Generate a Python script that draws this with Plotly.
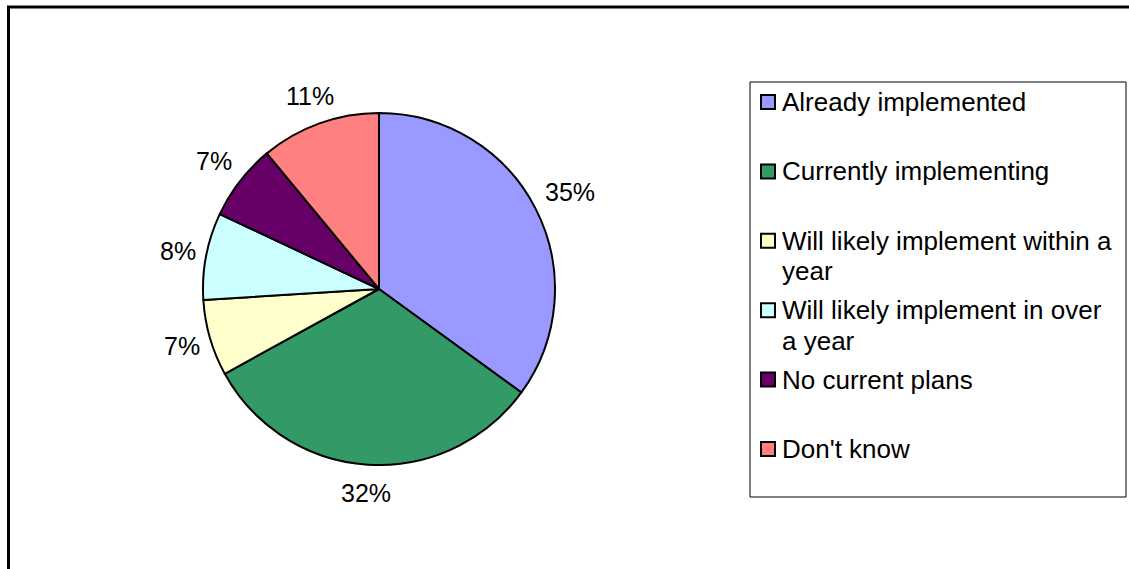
import math
import plotly.graph_objects as go

# Survey responses (share of respondents, %)
categories = [
    "Already implemented",
    "Currently implementing",
    "Will likely implement within a year",
    "Will likely implement in over a year",
    "No current plans",
    "Don't know",
]
shares = [35, 32, 7, 8, 7, 11]
slice_colors = ["#9999FF", "#339966", "#FFFFCC", "#CCFFFF", "#660066", "#FF8080"]
# Legend text, wrapped the way it is drawn in the key box
legend_lines = [
    ["Already implemented"],
    ["Currently implementing"],
    ["Will likely implement within a", "year"],
    ["Will likely implement in over", "a year"],
    ["No current plans"],
    ["Don't know"],
]

W, H = 1129, 569
FONT = "Liberation Sans, Arial, sans-serif"
LABEL_SIZE = 25
LEGEND_SIZE = 26


def px(x):
    return x / W


def py(y):
    return 1 - y / H


# Pie placement (pixels): centre and radius
cx, cy, r = 379, 289, 176

fig = go.Figure(
    go.Pie(
        labels=categories,
        values=shares,
        sort=False,
        direction="clockwise",
        rotation=0,
        marker=dict(colors=slice_colors, line=dict(color="black", width=2)),
        textinfo="none",
        showlegend=False,
        hoverinfo="label+percent",
        domain=dict(x=[px(cx - r), px(cx + r)], y=[py(cy + r), py(cy - r)]),
    )
)

shapes = []
annotations = []

# Percentage labels sitting just outside each slice, along its mid angle
total = sum(shares)
start = 0.0
gap, half_h = 10, 18
for v in shares:
    frac = v / total
    mid = 2 * math.pi * (start + frac / 2)
    start += frac
    ux, uy = math.sin(mid), -math.cos(mid)
    txt = f"{round(100 * frac)}%"
    half_w = (0.556 * (len(txt) - 1) + 0.889) * LABEL_SIZE / 2
    reach = min(half_w / max(abs(ux), 1e-6), half_h / max(abs(uy), 1e-6))
    d = r + gap + reach
    annotations.append(dict(
        xref="paper", yref="paper", x=px(cx + ux * d), y=py(cy + uy * d),
        xanchor="center", yanchor="middle", showarrow=False, text=txt,
        font=dict(family=FONT, size=LABEL_SIZE, color="black"),
    ))

# Outer chart frame (runs off the right and bottom edges)
shapes.append(dict(type="rect", xref="paper", yref="paper",
                   x0=px(8.5), x1=1.02, y0=-0.02, y1=py(7),
                   line=dict(color="black", width=3), fillcolor="rgba(0,0,0,0)"))

# Key box
shapes.append(dict(type="rect", xref="paper", yref="paper",
                   x0=px(750), x1=px(1126), y0=py(497), y1=py(82),
                   line=dict(color="black", width=1), fillcolor="white"))

row0, row_step, line_step = 102, 69.4, 30.5
for i, (lines, col) in enumerate(zip(legend_lines, slice_colors)):
    yc = row0 + i * row_step
    shapes.append(dict(type="rect", xref="paper", yref="paper",
                       x0=px(761), x1=px(775), y0=py(yc + 7), y1=py(yc - 7),
                       line=dict(color="black", width=2), fillcolor=col))
    for j, txt in enumerate(lines):
        annotations.append(dict(
            xref="paper", yref="paper", x=px(780), y=py(yc + j * line_step),
            xanchor="left", yanchor="middle", showarrow=False, text=txt,
            font=dict(family=FONT, size=LEGEND_SIZE, color="black"),
        ))

fig.update_layout(
    width=W, height=H,
    margin=dict(l=0, r=0, t=0, b=0),
    paper_bgcolor="white", plot_bgcolor="white",
    shapes=shapes, annotations=annotations,
)

fig.write_html("out.html")
